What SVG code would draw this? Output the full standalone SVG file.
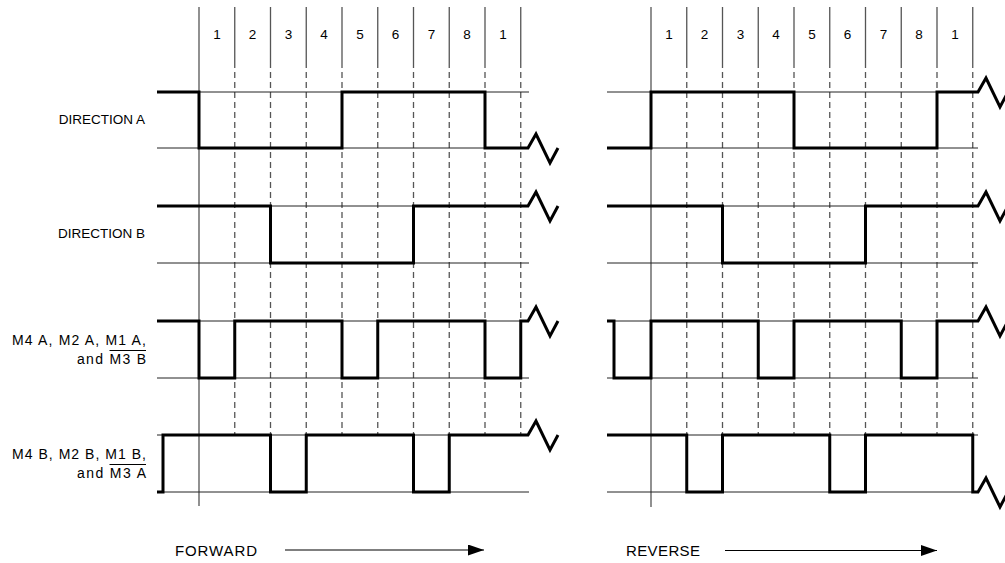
<svg xmlns="http://www.w3.org/2000/svg" width="1005" height="563" viewBox="0 0 1005 563">
<style>
text{font-family:"Liberation Sans",Arial,sans-serif;fill:#000}
.lbl{font-size:13.5px;text-anchor:end}
.lbl2{font-size:14px;text-anchor:end}
.num{font-size:13.5px;text-anchor:middle}
.dir{font-size:15px}
.grid{stroke:#555;stroke-width:1.3;fill:none}
.dash{stroke:#555;stroke-width:1.3;stroke-dasharray:6 4;fill:none}
.ref{stroke:#222;stroke-width:1;fill:none}
.wave{stroke:#000;stroke-width:3;fill:none;stroke-linejoin:miter}
.arr{stroke:#000;stroke-width:1.2;fill:none}
.ovl{stroke:#000;stroke-width:1;fill:none}
</style>
<defs>
<marker id="ah" markerWidth="16" markerHeight="11" refX="16" refY="5.5" orient="auto" markerUnits="userSpaceOnUse">
<path d="M0,0 L16,5.5 L0,11 Z" fill="#000"/>
</marker>
</defs>

<g id="labels">
<text class="lbl" x="145" y="123.5">DIRECTION  A</text>
<text class="lbl" x="145" y="238">DIRECTION  B</text>
<text class="lbl2" x="146" y="345" textLength="134" lengthAdjust="spacing">M4 A, M2 A, M1  A,</text>
<text class="lbl2" x="146" y="363.5" textLength="69" lengthAdjust="spacing">and M3 B</text>
<path class="ovl" d="M109.5,350.5 H146"/>
<text class="lbl2" x="146" y="459" textLength="134" lengthAdjust="spacing">M4 B, M2 B, M1  B,</text>
<text class="lbl2" x="146" y="477.5" textLength="69" lengthAdjust="spacing">and M3 A</text>
<path class="ovl" d="M109.5,464.5 H146"/>
</g>

<g id="forward-grid">
<path class="grid" d="M199,7 V506"/>
<path class="grid" d="M234.75,7 V62 M270.5,7 V62 M306.25,7 V62 M342,7 V62 M377.75,7 V62 M413.5,7 V62 M449.25,7 V62 M485,7 V62 M520.75,7 V62"/>
<path class="dash" d="M234.75,62 V435 M270.5,62 V435 M306.25,62 V435 M342,62 V435 M377.75,62 V435 M413.5,62 V435 M449.25,62 V435 M485,62 V435 M520.75,62 V435"/>
<path class="ref" d="M157,92 H529 M157,148 H529 M157,206 H529 M157,263 H529 M157,321 H529 M157,378 H529 M157,435 H529 M157,492 H529"/>
<text class="num" x="216.9" y="38.5">1</text>
<text class="num" x="252.6" y="38.5">2</text>
<text class="num" x="288.4" y="38.5">3</text>
<text class="num" x="324.1" y="38.5">4</text>
<text class="num" x="359.9" y="38.5">5</text>
<text class="num" x="395.6" y="38.5">6</text>
<text class="num" x="431.4" y="38.5">7</text>
<text class="num" x="467.1" y="38.5">8</text>
<text class="num" x="502.9" y="38.5">1</text>
</g>

<g id="reverse-grid">
<path class="grid" d="M651,7 V507"/>
<path class="grid" d="M686.75,7 V62 M722.5,7 V62 M758.25,7 V62 M794,7 V62 M829.75,7 V62 M865.5,7 V62 M901.25,7 V62 M937,7 V62 M972.75,7 V62"/>
<path class="dash" d="M686.75,62 V435 M722.5,62 V435 M758.25,62 V435 M794,62 V435 M829.75,62 V435 M865.5,62 V435 M901.25,62 V435 M937,62 V435 M972.75,62 V435"/>
<path class="ref" d="M607,92 H978 M607,148 H978 M607,206 H978 M607,263 H978 M607,321 H978 M607,378 H978 M607,435 H978 M607,492 H978"/>
<text class="num" x="668.9" y="38.5">1</text>
<text class="num" x="704.6" y="38.5">2</text>
<text class="num" x="740.4" y="38.5">3</text>
<text class="num" x="776.1" y="38.5">4</text>
<text class="num" x="811.9" y="38.5">5</text>
<text class="num" x="847.6" y="38.5">6</text>
<text class="num" x="883.4" y="38.5">7</text>
<text class="num" x="919.1" y="38.5">8</text>
<text class="num" x="954.9" y="38.5">1</text>
</g>

<g id="forward-waves">
<path id="fwd-a" class="wave" d="M157,92 H199 V148 H342 V92 H485 V148 H528 L536,134 L550,163 L558,148"/>
<path id="fwd-b" class="wave" d="M157,206 H270.5 V263 H413.5 V206 H528 L536,192 L550,221 L558,206"/>
<path id="fwd-c" class="wave" d="M157,321 H199 V378 H234.75 V321 H342 V378 H377.75 V321 H485 V378 H520.75 V321 H528 L536,307 L550,336 L558,321"/>
<path id="fwd-d" class="wave" d="M157,492 H163 V435 H270.5 V492 H306.25 V435 H413.5 V492 H449.25 V435 H528 L536,421 L550,450 L558,435"/>
</g>

<g id="reverse-waves">
<path id="rev-a" class="wave" d="M607,148 H651 V92 H794 V148 H937 V92 H978 L986,78 L1000,107 L1008,92"/>
<path id="rev-b" class="wave" d="M607,206 H722.5 V263 H865.5 V206 H978 L986,192 L1000,221 L1008,206"/>
<path id="rev-c" class="wave" d="M607,321 H614 V378 H651 V321 H758.25 V378 H794 V321 H901.25 V378 H937 V321 H978 L986,307 L1000,336 L1008,321"/>
<path id="rev-d" class="wave" d="M607,435 H686.75 V492 H722.5 V435 H829.75 V492 H865.5 V435 H972.75 V492 H978 L986,478 L1000,507 L1008,492"/>
</g>

<g id="forward-dir">
<text class="dir" x="175" y="555.5" textLength="82" lengthAdjust="spacing">FORWARD</text>
<path class="arr" d="M285,550 H484" marker-end="url(#ah)"/>
</g>
<g id="reverse-dir">
<text class="dir" x="626" y="555.5" textLength="74" lengthAdjust="spacing">REVERSE</text>
<path class="arr" d="M725,550.5 H937" marker-end="url(#ah)"/>
</g>
</svg>
